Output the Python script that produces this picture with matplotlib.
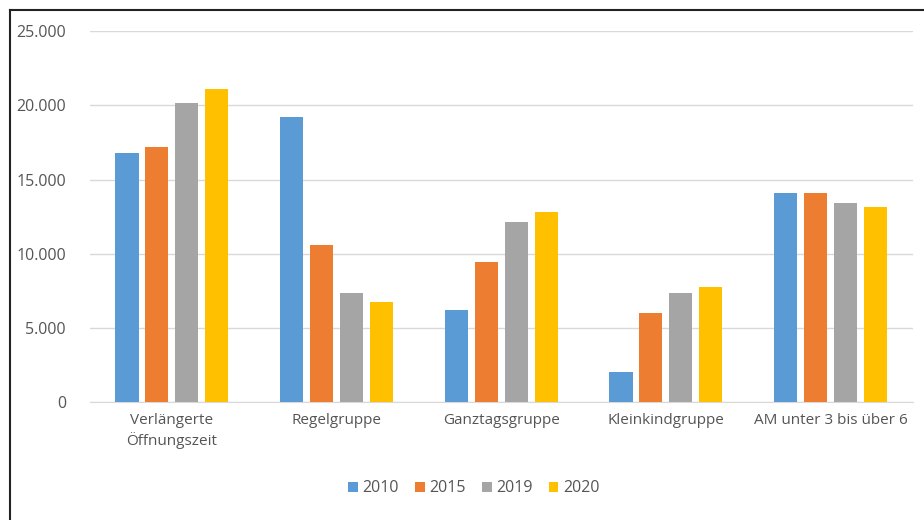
import matplotlib
matplotlib.use("Agg")
import matplotlib.pyplot as plt
import numpy as np
from matplotlib.lines import Line2D

categories = ["Verlängerte\nÖffnungszeit", "Regelgruppe", "Ganztagsgruppe", "Kleinkindgruppe", "AM unter 3 bis über 6"]
years = ["2010", "2015", "2019", "2020"]
v2010 = [16800, 19200, 6200, 2050, 14080]
v2015 = [17200, 10600, 9450, 6000, 14080]
v2019 = [20150, 7350, 12150, 7350, 13420]
v2020 = [21100, 6750, 12800, 7750, 13150]
series = [v2010, v2015, v2019, v2020]
colors = ["#5B9BD5", "#ED7D31", "#A5A5A5", "#FFC000"]
yticks = [0, 5000, 10000, 15000, 20000, 25000]
ytick_labels = ["0", "5.000", "10.000", "15.000", "20.000", "25.000"]

plt.rcParams['font.family'] = ['Open Sans', 'DejaVu Sans']
txt = "#555555"

fig = plt.figure(figsize=(9.24, 5.20), dpi=100)
ax = fig.add_axes([0.097, 0.227, 0.891, 0.713])

x = np.arange(len(categories))
step = 0.182
width = 0.14
for i, (vals, c, y) in enumerate(zip(series, colors, years)):
    ax.bar(x + (i - 1.5) * step, vals, width=width, color=c, label=y, zorder=3)

ax.set_xlim(-0.5, len(categories) - 0.5)
ax.set_ylim(0, 25000)
ax.set_yticks(yticks)
ax.set_yticklabels(ytick_labels, color=txt, fontsize=11.5)
ax.set_xticks(x)
ax.set_xticklabels(categories, color=txt, fontsize=11, linespacing=1.3)
ax.tick_params(axis='y', length=0, pad=17)
ax.tick_params(axis='x', length=0, pad=8)
ax.yaxis.grid(True, color="#D9D9D9", linewidth=1, zorder=0)
for s in ["top", "right", "left"]:
    ax.spines[s].set_visible(False)
ax.spines["bottom"].set_color("#D9D9D9")

leg = fig.legend(loc="center", bbox_to_anchor=(0.513, 0.061), ncol=4, frameon=False,
                 fontsize=11.5, handlelength=0.6, handleheight=0.6, handletextpad=0.3,
                 columnspacing=1.0)
for t in leg.get_texts():
    t.set_color(txt)

fig.add_artist(Line2D([10/924, 10/924], [0, 1 - 10/520], color="#222222", lw=1.5))
fig.add_artist(Line2D([10/924, 1], [1 - 10/520, 1 - 10/520], color="#222222", lw=1.5))

fig.savefig("out.png", dpi=100)
